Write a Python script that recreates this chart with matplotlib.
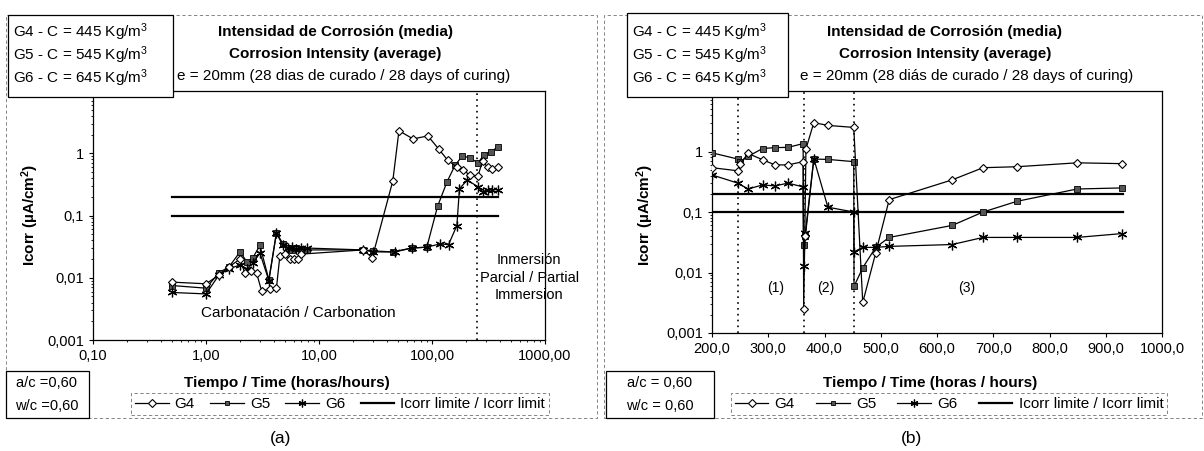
import numpy as np
import matplotlib.pyplot as plt
from matplotlib.patches import Rectangle
from matplotlib.ticker import LogLocator, NullFormatter

plt.rcParams['font.family'] = ['Liberation Sans', 'DejaVu Sans']
plt.rcParams['mathtext.default'] = 'regular'

# ---- panel (a): log time ----
t_g4_a = [0.5, 1.0, 1.3, 1.6, 2.0, 2.2, 2.5, 2.8, 3.1, 3.7, 4.2, 4.5, 5.0, 5.5, 6.0, 6.5, 7.0,
          24.6, 29.6, 45, 51, 68, 92, 115, 138, 166, 190, 215, 255, 280, 310, 340, 380]
g4_a = [0.0085, 0.008, 0.011, 0.015, 0.02, 0.012, 0.013, 0.012, 0.0062, 0.0065, 0.0068, 0.022,
        0.024, 0.02, 0.02, 0.02, 0.024, 0.028, 0.021, 0.36, 2.3, 1.7, 1.9, 1.16, 0.77, 0.6, 0.53,
        0.45, 0.43, 0.75, 0.6, 0.55, 0.6]
t_g5_a = [0.5, 1.0, 1.3, 1.6, 2.0, 2.3, 2.6, 3.0, 3.6, 4.2, 4.8, 5.3, 5.8, 6.3, 7.0, 7.8,
          24.6, 30, 45, 66, 90, 112, 136, 160, 185, 215, 255, 290, 330, 380]
g5_a = [0.0075, 0.0068, 0.012, 0.015, 0.026, 0.018, 0.021, 0.033, 0.0093, 0.053, 0.035, 0.03,
        0.028, 0.03, 0.029, 0.028, 0.028, 0.027, 0.026, 0.03, 0.031, 0.14, 0.35, 0.64, 0.9, 0.85,
        0.7, 0.95, 1.05, 1.25]
t_g6_a = [0.5, 1.0, 1.3, 1.6, 2.0, 2.3, 2.6, 3.0, 3.6, 4.2, 4.8, 5.3, 5.8, 6.3, 7.0, 7.8,
          24.6, 30, 47, 66, 90, 118, 140, 166, 175, 205, 255, 280, 310, 340, 380]
g6_a = [0.0058, 0.0055, 0.011, 0.014, 0.016, 0.014, 0.017, 0.025, 0.009, 0.052, 0.033, 0.03,
        0.031, 0.029, 0.03, 0.03, 0.028, 0.026, 0.026, 0.03, 0.031, 0.035, 0.034, 0.069, 0.27,
        0.37, 0.29, 0.24, 0.26, 0.26, 0.26]
lim_t_a = [0.5, 380]

# ---- panel (b): linear time ----
t_g4_b = [200, 246, 250, 264, 290, 312, 335, 362, 363, 365, 367, 381, 406, 452, 468, 491, 515,
          627, 682, 742, 849, 929]
g4_b = [0.54, 0.48, 0.62, 0.93, 0.73, 0.6, 0.6, 0.68, 0.0025, 0.04, 1.1, 3.0, 2.7, 2.5, 0.0032,
        0.021, 0.16, 0.34, 0.54, 0.56, 0.65, 0.63]
t_g5_b = [200, 246, 250, 264, 290, 312, 335, 362, 363, 366, 381, 406, 452, 452.5, 468, 491, 515,
          627, 682, 742, 849, 929]
g5_b = [0.95, 0.75, 0.68, 0.83, 1.12, 1.16, 1.17, 1.35, 0.029, 0.04, 0.75, 0.74, 0.68, 0.0059,
        0.012, 0.026, 0.038, 0.06, 0.1, 0.15, 0.24, 0.25]
t_g6_b = [200, 246, 264, 290, 312, 335, 362, 363, 366, 381, 406, 452, 452.5, 468, 491, 515,
          627, 682, 742, 849, 929]
g6_b = [0.41, 0.30, 0.24, 0.28, 0.27, 0.3, 0.26, 0.013, 0.045, 0.76, 0.12, 0.1, 0.022, 0.026,
        0.026, 0.027, 0.029, 0.038, 0.038, 0.038, 0.044]
lim_t_b = [200, 930]
stage_lines_b = [246, 364, 452]

icorr_limits = [0.1, 0.2]

W, H = 1204, 451
fig = plt.figure(figsize=(W / 100, H / 100), dpi=100)


def axes_px(x0, y0, x1, y1):
    return fig.add_axes([x0 / W, 1 - y1 / H, (x1 - x0) / W, (y1 - y0) / H])


def rect_px(x0, y0, x1, y1, **kw):
    r = Rectangle((x0 / W, 1 - y1 / H), (x1 - x0) / W, (y1 - y0) / H,
                  transform=fig.transFigure, **kw)
    fig.add_artist(r)


def text_px(x, y, s, **kw):
    fig.text(x / W, 1 - y / H, s, **kw)


def draw_series(ax, tg4, g4, tg5, g5, tg6, g6, tlim):
    ax.plot(tg4, g4, color='black', lw=0.9, marker='D', ms=4.5, mfc='white', mec='black',
            mew=0.8, label='G4', zorder=4)
    ax.plot(tg5, g5, color='black', lw=0.9, marker='s', ms=4, mfc='#555555', mec='black',
            mew=0.6, label='G5', zorder=3)
    ax.plot(tg6, g6, color='black', lw=0.9, marker=(6, 2, 0), ms=7, mec='black', mew=0.9,
            label='G6', zorder=3)
    for i, v in enumerate(icorr_limits):
        ax.plot(tlim, [v, v], color='black', lw=1.6,
                label='Icorr limite / Icorr limit' if i == 0 else None, zorder=2)


def style_y(ax):
    ax.set_yscale('log')
    ax.set_ylim(0.001, 10)
    ax.set_yticks([0.001, 0.01, 0.1, 1])
    ax.set_yticklabels(['0,001', '0,01', '0,1', '1'])
    ax.yaxis.set_minor_locator(LogLocator(base=10, subs=np.arange(2, 10)))
    ax.yaxis.set_minor_formatter(NullFormatter())
    ax.tick_params(axis='both', which='major', labelsize=10.5, length=3, width=0.8)
    ax.tick_params(axis='both', which='minor', length=1.5, width=0.6)
    for s in ax.spines.values():
        s.set_linewidth(0.9)


# ================= panel (a) =================
rect_px(6, 15, 597, 418, fill=False, ls=(0, (4, 3)), lw=0.6, ec='0.45')
ax1 = axes_px(93, 91, 545, 340)
draw_series(ax1, t_g4_a, g4_a, t_g5_a, g5_a, t_g6_a, g6_a, lim_t_a)
style_y(ax1)
ax1.set_xscale('log')
ax1.set_xlim(0.1, 1000)
ax1.set_xticks([0.1, 1, 10, 100, 1000])
ax1.set_xticklabels(['0,10', '1,00', '10,00', '100,00', '1000,00'])
ax1.xaxis.set_minor_locator(LogLocator(base=10, subs=np.arange(2, 10)))
ax1.xaxis.set_minor_formatter(NullFormatter())
ax1.axvline(250, color='black', ls=(0, (1, 2.5)), lw=1.2)
ax1.text(0.24, 0.11, 'Carbonatación / Carbonation', transform=ax1.transAxes, fontsize=11,
         ha='left', va='center')
ax1.text(0.965, 0.25, 'Inmersión\nParcial / Partial\nImmersion', transform=ax1.transAxes,
         fontsize=10.5, ha='center', va='center', linespacing=1.3, clip_on=False)

rect_px(8, 15, 173, 97, fc='white', ec='black', lw=0.9, zorder=5)
for i, c in enumerate(['445', '545', '645']):
    text_px(13, 32 + 23 * i, f'G{4 + i} - C = {c} Kg/m$^{{3}}$', fontsize=11, va='center',
            zorder=6)
text_px(335, 32, 'Intensidad de Corrosión (media)', fontsize=11, fontweight='bold',
        ha='center', va='center')
text_px(335, 54, 'Corrosion Intensity (average)', fontsize=11, fontweight='bold',
        ha='center', va='center')
text_px(177, 76, 'e = 20mm (28 dias de curado / 28 days of curing)', fontsize=11,
        ha='left', va='center')
text_px(30, 215, 'Icorr (µA/cm$^{2}$)', fontsize=11, fontweight='bold', rotation=90,
        ha='center', va='center')
text_px(287, 383, 'Tiempo / Time (horas/hours)', fontsize=11, fontweight='bold',
        ha='center', va='center')
rect_px(6, 371, 89, 418, fc='white', ec='black', lw=0.9)
text_px(47, 383, 'a/c =0,60', fontsize=10.5, ha='center', va='center')
text_px(47, 406, 'w/c =0,60', fontsize=10.5, ha='center', va='center')
text_px(281, 438, '(a)', fontsize=12.5, ha='center', va='center')

h1, l1 = ax1.get_legend_handles_labels()
leg1 = fig.legend(h1, l1, loc='center', bbox_to_anchor=(340 / W, 1 - 404 / H), ncol=4,
                  fontsize=11, frameon=True, fancybox=False, handlelength=2.2,
                  handletextpad=0.4, columnspacing=1.0, borderpad=0.25, markerscale=0.8)
leg1.get_frame().set_edgecolor('0.3')
leg1.get_frame().set_linestyle((0, (4, 3)))
leg1.get_frame().set_linewidth(0.6)

# ================= panel (b) =================
rect_px(604, 15, 1202, 418, fill=False, ls=(0, (4, 3)), lw=0.6, ec='0.45')
ax2 = axes_px(712, 91, 1162, 333)
draw_series(ax2, t_g4_b, g4_b, t_g5_b, g5_b, t_g6_b, g6_b, lim_t_b)
style_y(ax2)
ax2.set_xlim(200, 1000)
ax2.set_xticks(np.arange(200, 1001, 100))
ax2.set_xticklabels([f'{v},0' for v in range(200, 1001, 100)])
for xv in stage_lines_b:
    ax2.axvline(xv, color='black', ls=(0, (1, 2.5)), lw=1.2)
ax2.text(313, 0.0055, '(1)', fontsize=10, ha='center', va='center')
ax2.text(403, 0.0055, '(2)', fontsize=10, ha='center', va='center')
ax2.text(653, 0.0055, '(3)', fontsize=10, ha='center', va='center')

rect_px(627, 13, 788, 97, fc='white', ec='black', lw=0.9, zorder=5)
for i, c in enumerate(['445', '545', '645']):
    text_px(632, 32 + 23 * i, f'G{4 + i} - C = {c} Kg/m$^{{3}}$', fontsize=11, va='center',
            zorder=6)
text_px(945, 32, 'Intensidad de Corrosión (media)', fontsize=11, fontweight='bold',
        ha='center', va='center')
text_px(945, 54, 'Corrosion Intensity (average)', fontsize=11, fontweight='bold',
        ha='center', va='center')
text_px(800, 76, 'e = 20mm (28 diás de curado / 28 days of curing)', fontsize=11,
        ha='left', va='center')
text_px(645, 215, 'Icorr (µA/cm$^{2}$)', fontsize=11, fontweight='bold', rotation=90,
        ha='center', va='center')
text_px(930, 383, 'Tiempo / Time (horas / hours)', fontsize=11, fontweight='bold',
        ha='center', va='center')
rect_px(606, 371, 714, 418, fc='white', ec='black', lw=0.9)
text_px(660, 383, 'a/c = 0,60', fontsize=10.5, ha='center', va='center')
text_px(660, 406, 'w/c = 0,60', fontsize=10.5, ha='center', va='center')
text_px(912, 438, '(b)', fontsize=12.5, ha='center', va='center')

h2, l2 = ax2.get_legend_handles_labels()
leg2 = fig.legend(h2, l2, loc='center', bbox_to_anchor=(949 / W, 1 - 404 / H), ncol=4,
                  fontsize=11, frameon=True, fancybox=False, handlelength=2.2,
                  handletextpad=0.4, columnspacing=1.4, borderpad=0.25, markerscale=0.8)
leg2.get_frame().set_edgecolor('0.3')
leg2.get_frame().set_linestyle((0, (4, 3)))
leg2.get_frame().set_linewidth(0.6)

fig.savefig('out.png', dpi=100)
plt.close(fig)
